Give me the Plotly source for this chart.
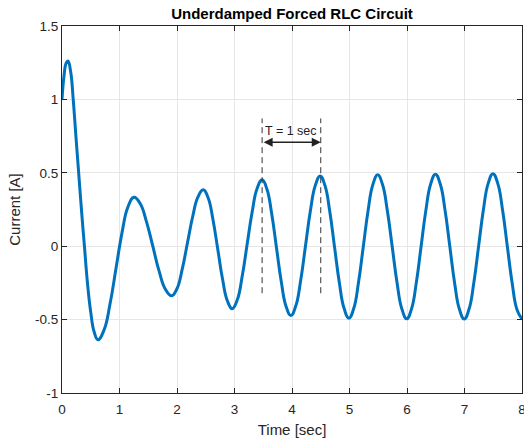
import plotly.graph_objects as go

# Curve samples (extrema and points between them)
time_s = [0.0, 0.035, 0.07, 0.104, 0.15, 0.195, 0.24, 0.29, 0.34, 0.39, 0.445, 0.50, 0.56,
          0.626, 0.730, 0.835, 0.939, 1.043, 1.148,
          1.252, 1.361, 1.470, 1.580, 1.689, 1.798,
          1.907, 1.999, 2.090, 2.182, 2.274, 2.365,
          2.457, 2.541, 2.625, 2.709, 2.792, 2.876,
          2.96, 3.047, 3.133, 3.22, 3.307, 3.393,
          3.48, 3.563, 3.647, 3.73, 3.813, 3.897,
          3.98, 4.065, 4.15, 4.235, 4.32, 4.405,
          4.49, 4.573, 4.657, 4.74, 4.823, 4.907,
          4.99, 5.073, 5.157, 5.24, 5.323, 5.407,
          5.49, 5.574, 5.658, 5.743, 5.827, 5.911,
          5.995, 6.078, 6.162, 6.245, 6.328, 6.412,
          6.495, 6.578, 6.662, 6.745, 6.828, 6.912,
          6.995, 7.078, 7.162, 7.245, 7.328, 7.412,
          7.495, 7.578, 7.662, 7.745, 7.828, 7.912, 8.0]
current_a = [1.0, 1.16, 1.245, 1.262, 1.19, 1.0, 0.76, 0.5, 0.24, 0.0, -0.26, -0.45, -0.585,
             -0.637, -0.572, -0.394, -0.152, 0.091, 0.269,
             0.334, 0.289, 0.166, -0.002, -0.170, -0.293,
             -0.338, -0.290, -0.158, 0.023, 0.204, 0.336,
             0.384, 0.330, 0.182, -0.021, -0.224, -0.372,
             -0.426, -0.367, -0.207, 0.013, 0.233, 0.393,
             0.452, 0.390, 0.221, -0.010, -0.241, -0.410,
             -0.472, -0.408, -0.235, 0.003, 0.241, 0.414,
             0.478, 0.413, 0.236, -0.006, -0.248, -0.425,
             -0.490, -0.425, -0.246, -0.002, 0.242, 0.421,
             0.486, 0.420, 0.241, -0.004, -0.249, -0.428,
             -0.494, -0.428, -0.248, -0.002, 0.244, 0.424,
             0.490, 0.424, 0.244, -0.003, -0.250, -0.430,
             -0.496, -0.430, -0.249, -0.001, 0.247, 0.428,
             0.494, 0.428, 0.246, -0.002, -0.249, -0.431, -0.497]

x_ticks = [0, 1, 2, 3, 4, 5, 6, 7, 8]
y_ticks = [-1, -0.5, 0, 0.5, 1, 1.5]
y_tick_labels = ["-1", "-0.5", "0", "0.5", "1", "1.5"]

period_marks = [3.48, 4.5]
mark_y_range = [-0.32, 0.87]
arrow_y = 0.708
period_label = "T = 1 sec"

FONT = "Liberation Sans, Arial, Helvetica, sans-serif"
TXT = "#262626"

fig = go.Figure()
fig.add_trace(go.Scatter(x=time_s, y=current_a, mode="lines",
                         line=dict(color="#0072BD", width=3, shape="spline", smoothing=1.3),
                         showlegend=False, hoverinfo="skip"))

for xm in period_marks:
    fig.add_trace(go.Scatter(x=[xm, xm], y=mark_y_range, mode="lines",
                             line=dict(color="#333333", width=1, dash="6px,4px"),
                             showlegend=False, hoverinfo="skip"))

fig.add_annotation(x=period_marks[1], y=arrow_y, ax=period_marks[0], ay=arrow_y,
                   xref="x", yref="y", axref="x", ayref="y", text="",
                   showarrow=True, arrowhead=2, startarrowhead=2, arrowside="end+start",
                   arrowsize=1.2, arrowwidth=1.5, arrowcolor="#222222")
fig.add_annotation(x=period_marks[0] + 0.01, y=arrow_y + 0.015, xref="x", yref="y",
                   text=period_label, showarrow=False, xanchor="left", yanchor="bottom",
                   font=dict(family=FONT, size=12.5, color="#222222"))

axis_common = dict(showline=True, linecolor="#262626", linewidth=1, mirror="ticks",
                   ticks="inside", ticklen=5, tickcolor="#262626", automargin=False,
                   ticklabeloverflow="allow",
                   showgrid=True, gridcolor="#E6E6E6", gridwidth=1, zeroline=False,
                   tickfont=dict(family=FONT, size=13.5, color=TXT))

fig.update_xaxes(range=[0, 8], tickvals=x_ticks, ticklabelstandoff=4,
                 title=dict(text="Time [sec]", font=dict(family=FONT, size=15, color=TXT), standoff=10),
                 **axis_common)
fig.update_yaxes(range=[-1, 1.5], tickvals=y_ticks, ticktext=y_tick_labels,
                 title=dict(text="Current [A]", font=dict(family=FONT, size=15, color=TXT), standoff=10),
                 **axis_common)

fig.update_layout(
    width=524, height=438,
    margin=dict(l=62, r=2, t=26, b=45, autoexpand=False),
    paper_bgcolor="white", plot_bgcolor="white",
    title=dict(text="<b>Underdamped Forced RLC Circuit</b>", x=0.5, xref="paper",
               y=1, yref="container", yanchor="top", pad=dict(t=8),
               font=dict(family=FONT, size=15, color="#000000"), automargin=False),
)

fig.write_html("out.html", config={"displayModeBar": False},
               post_script="document.body.style.margin='0';document.body.style.overflow='hidden';")
